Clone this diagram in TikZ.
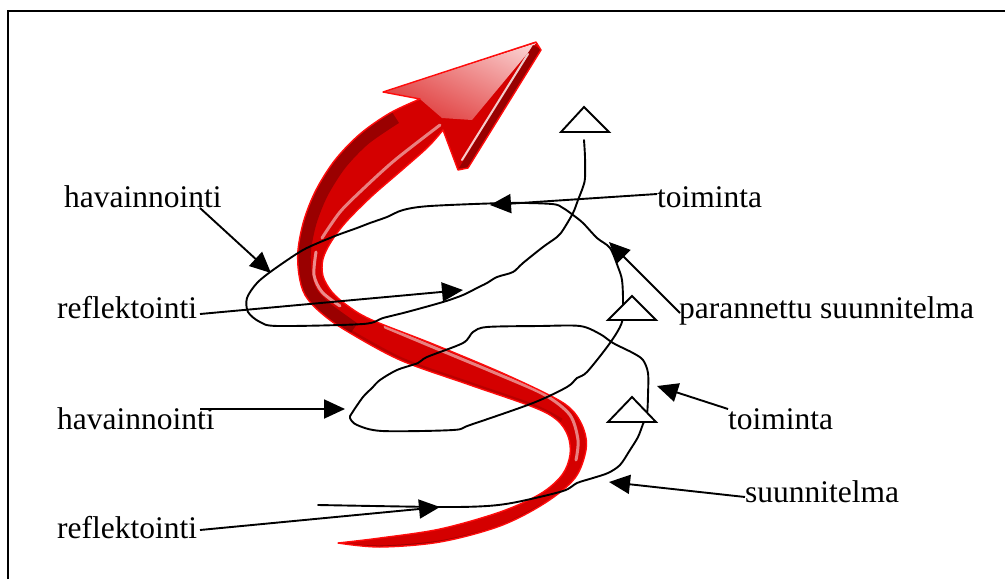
\documentclass[tikz,border=0pt]{standalone}
\usepackage{fontspec}
\setmainfont{Liberation Serif}
\usetikzlibrary{arrows.meta,shadings}

\definecolor{arrowred}{RGB}{212,0,0}
\definecolor{arrowdark}{RGB}{135,0,0}
\definecolor{arrowedge}{RGB}{255,12,12}
\definecolor{headpink}{RGB}{236,120,120}
\definecolor{headlight}{RGB}{252,218,218}

% outline of the red S-shaped arrow (pixel-like units, y grows downwards)
\newcommand\spiralarrowpath{
  plot[smooth,tension=0.55] coordinates {(338,543) (380,547) (440,542) (500,526) (545,503) (575,478) (586,450) (584,430) (573,411) (553,397) (500,372) (433,344) (372,320) (348,306) (332,292) (323,276) (323,259) (331,242) (346,222) (372,196) (402,170) (428,147) (443,130)}
  -- (458,170) -- (468,168) -- (541,50) -- (536,42) -- (383,92) -- (420,99)
  -- plot[smooth,tension=0.55] coordinates {(420,99) (390,113) (360,134) (335,160) (316,190) (304,220) (298,250) (299,275) (305,295) (320,312) (345,330) (400,360) (467,384) (533,407) (557,420) (568,436) (570,455) (562,475) (540,494) (500,512) (440,529) (380,538) (338,543)}
  -- cycle}

\begin{document}
\begin{tikzpicture}[x=1pt,y=-1pt,
  label/.style={font=\fontsize{31.5}{36}\selectfont, inner sep=0pt, anchor=base west},
  pointer/.style={line width=1.9pt, -{Triangle[length=21pt,width=19pt]}},
  sketch/.style={line width=1.9pt, line join=round, line cap=round},
  opentri/.style={line width=1.9pt, fill=white, line join=miter}]

\useasboundingbox (0,0) rectangle (1005,579);
\fill[white] (0,0) rectangle (1005,579);

% frame
\draw[line width=2.2pt] (8,579) -- (8,11) -- (1005,11);

% ---- red spiral arrow ----
\fill[arrowred] \spiralarrowpath;
\begin{scope}
  \clip \spiralarrowpath;
  % darker outer side of the upper bend and shaft
  \draw[arrowdark, opacity=0.75, line width=26pt]
    plot[smooth] coordinates {(350,334) (320,312) (305,295) (299,275) (298,250) (304,220) (316,190) (335,160) (360,134) (392,112)};
  % darker lower edge of the tail
  \draw[arrowdark, opacity=0.7, line width=7pt]
    plot[smooth] coordinates {(338,546) (380,549) (440,544) (500,529) (545,506)};
  % darker lower side of the diagonal
  \draw[arrowdark, opacity=0.35, line width=10pt]
    plot[smooth] coordinates {(345,332) (400,362) (467,386) (533,409) (560,423)};
  % head: top face, side face
  \shade[upper right=headlight, upper left=headpink, lower left=arrowred!85!white, lower right=headpink]
    (383,92) -- (536,43) -- (472,120) -- (442,118) -- (420,99) -- cycle;
  \fill[arrowdark!85!red] (533,45) -- (542,50) -- (469,169) -- (459,168) -- cycle;
  % glossy highlights
  \draw[white, opacity=0.55, line width=3pt, line cap=round]
    plot[smooth] coordinates {(316,252) (314,275) (322,292) (340,306)};
  \draw[white, opacity=0.5, line width=3pt, line cap=round]
    plot[smooth] coordinates {(322,238) (340,212) (362,190) (395,160) (440,125)};
  \draw[white, opacity=0.5, line width=3pt, line cap=round]
    plot[smooth] coordinates {(385,327) (440,350) (500,375) (545,395) (570,415) (578,440) (576,460)};
  \draw[white, opacity=0.4, line width=2pt, line cap=round]
    plot[smooth] coordinates {(545,478) (500,503) (440,521) (390,530)};
  \draw[white, opacity=0.8, line width=2pt, line cap=round] (528,54) -- (462,160);
\end{scope}
\draw[arrowedge, line width=1.4pt, line join=round] \spiralarrowpath;

% ---- hand-drawn spiral line ----
\draw[sketch] plot[smooth,tension=0.5] coordinates {
  (318,505) (440,507) (487,506) (517,502) (563,491) (577,483) (593,478) (608,473)
  (620,465) (630,450) (638,437) (643,424) (647,414)
  (648,395) (648,373) (643,360) (633,353) (613,343) (600,334) (580,326)
  (540,326) (487,327) (473,332) (463,343) (427,357) (418,363) (397,370)
  (380,380) (372,388) (363,397) (352,413) (350,418) (357,425) (382,431)
  (453,430) (470,425) (533,403) (567,387) (577,378) (587,372) (610,343)
  (622,322) (623,300) (622,280) (618,267) (610,248) (597,238) (583,223)
  (573,215) (563,208) (552,204) (507,203) (430,206) (403,210) (387,217)
  (370,223) (357,228) (343,233) (330,238) (303,250) (273,270) (257,283)
  (247,298) (248,312) (260,322) (278,326) (363,324) (383,318) (407,312)
  (443,302) (463,295) (477,288) (487,283) (497,277) (513,272) (523,263)
  (543,247) (557,237) (563,230) (573,213) (578,200) (583,187) (585,178)
  (585,157) (584,140)};

% open triangles sitting on the line
\draw[opentri] (584,107) -- (561,132) -- (609,132) -- cycle;
\draw[opentri] (632,296) -- (608,320) -- (656,320) -- cycle;
\draw[opentri] (632,397) -- (608,422) -- (656,422) -- cycle;

% ---- labels ----
\node[label] (hav1)  at (64,207)  {havainnointi};
\node[label] (toi1)  at (657,207) {toiminta};
\node[label] (ref1)  at (57,318)  {reflektointi};
\node[label] (par)   at (679,318) {parannettu suunnitelma};
\node[label] (hav2)  at (57,429)  {havainnointi};
\node[label] (toi2)  at (728,429) {toiminta};
\node[label] (suu)   at (745,502) {suunnitelma};
\node[label] (ref2)  at (57,538)  {reflektointi};

% ---- pointer ends ----
\coordinate (hav1s) at (200,208);  \coordinate (hav1t) at (271,273);
\coordinate (ref1s) at (200,314);  \coordinate (ref1t) at (463,290);
\coordinate (toi1s) at (657,194);  \coordinate (toi1t) at (490,205);
\coordinate (pars)  at (680,313);  \coordinate (part)  at (609,242);
\coordinate (hav2s) at (200,409);  \coordinate (hav2t) at (345,409);
\coordinate (toi2s) at (728,409);  \coordinate (toi2t) at (657,386);
\coordinate (suus)  at (745,497);  \coordinate (suut)  at (609,482);
\coordinate (ref2s) at (200,530);  \coordinate (ref2t) at (440,507);

\draw[pointer] (hav1s) -- (hav1t);
\draw[pointer] (ref1s) -- (ref1t);
\draw[pointer] (toi1s) -- (toi1t);
\draw[pointer] (pars) -- (part);
\draw[pointer] (hav2s) -- (hav2t);
\draw[pointer] (toi2s) -- (toi2t);
\draw[pointer] (suus) -- (suut);
\draw[pointer] (ref2s) -- (ref2t);

\end{tikzpicture}
\end{document}
